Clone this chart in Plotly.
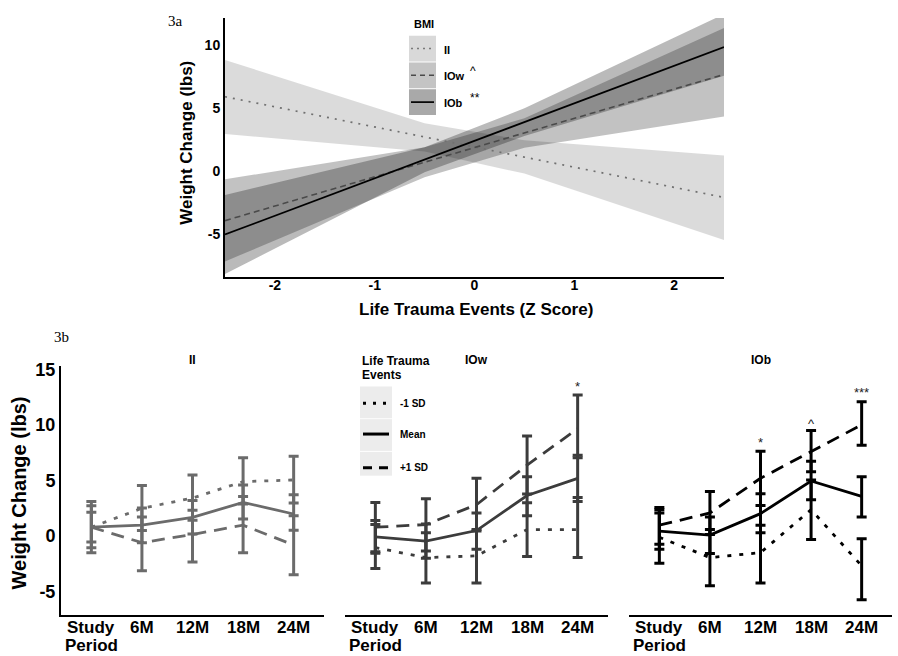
import plotly.graph_objects as go

W, H = 898, 656
def px(x): return x / W
def py(y): return 1 - y / H

FONT = "Arial, Liberation Sans, sans-serif"
SERIF = "Times New Roman, Liberation Serif, serif"

# ---------------- Figure 3a data ----------------
z_x = [-2.5, -0.5, 0.5, 2.5]
ii_fit = [5.92, 2.71, 1.11, -2.10]
ii_lo = [2.95, 1.55, -0.20, -5.50]
ii_hi = [8.85, 3.80, 2.45, 1.24]
ow_fit = [-3.95, 0.70, 3.03, 7.69]
ow_lo = [-7.20, -0.50, 1.85, 4.34]
ow_hi = [-0.66, 1.90, 4.20, 11.40]
ob_fit = [-5.05, 0.92, 3.90, 9.87]
ob_lo = [-8.20, -0.10, 2.80, 7.60]
ob_hi = [-1.90, 1.90, 5.00, 12.50]
z_ticks = [-2, -1, 0, 1, 2]
z_tick_text = ["-2", "-1", "0", "1", "2"]
wc_ticks_a = [-5, 0, 5, 10]
wc_tick_text_a = ["-5", "0", "5", "10"]

# ---------------- Figure 3b data ----------------
periods = ["Study", "6M", "12M", "18M", "24M"]
period_line2 = ["Period", "", "", "", ""]
wc_ticks_b = [-5, 0, 5, 10, 15]
wc_tick_text_b = ["-5", "0", "5", "10", "15"]

# II
ii_m1 = [0.80, 2.50, 3.42, 4.90, 5.05]
ii_m1_lo = [-1.49, 0.50, 1.43, 2.88, 2.97]
ii_m1_hi = [3.12, 4.55, 5.50, 7.04, 7.19]
ii_mean = [0.80, 0.98, 1.69, 3.03, 1.99]
ii_mean_lo = [-0.53, -0.59, 0.20, 1.54, 0.53]
ii_mean_hi = [2.14, 2.52, 3.21, 4.60, 3.71]
ii_p1 = [0.80, -0.59, 0.15, 0.98, -0.80]
ii_p1_lo = [-1.04, -3.12, -2.32, -1.49, -3.48]
ii_p1_hi = [2.73, 1.72, 2.32, 3.57, 1.84]
# IOw
ow_m1 = [-1.04, -1.93, -1.78, 0.59, 0.59]
ow_m1_lo = [-2.91, -4.22, -4.22, -1.84, -1.93]
ow_m1_hi = [1.04, 0.30, 0.59, 3.00, 3.48]
ow_mean = [-0.06, -0.45, 0.50, 3.65, 5.20]
ow_mean_lo = [-1.54, -1.99, -1.19, 1.84, 3.12]
ow_mean_hi = [1.40, 1.10, 2.08, 5.35, 7.28]
ow_p1 = [0.80, 1.04, 2.82, 6.39, 9.66]
ow_p1_lo = [-1.40, -1.34, 0.45, 3.78, 7.04]
ow_p1_hi = [3.03, 3.36, 5.20, 9.00, 12.69]
# IOb
ob_m1 = [-0.10, -1.93, -1.49, 2.38, -2.67]
ob_m1_lo = [-2.44, -4.46, -4.22, -0.30, -5.73]
ob_m1_hi = [2.38, 0.59, 0.98, 5.05, -0.24]
ob_mean = [0.45, 0.09, 2.02, 4.96, 3.57]
ob_mean_lo = [-1.19, -1.57, 0.30, 3.27, 1.72]
ob_mean_hi = [2.08, 1.72, 3.80, 6.74, 5.35]
ob_p1 = [0.98, 2.08, 5.20, 7.64, 10.01]
ob_p1_lo = [-0.74, 0.15, 2.76, 5.79, 8.17]
ob_p1_hi = [2.58, 4.01, 7.64, 9.50, 12.09]

# significance marks (axis number, period index, label, y)
sig_axis = [3, 4, 4, 4]
sig_idx = [4, 2, 3, 4]
sig_text = ["*", "*", "^", "***"]
sig_y = [13.5, 8.4, 10.1, 12.9]

fig = go.Figure()

# ---------- 3a bands ----------
def band(x, lo, hi, color):
    fig.add_trace(go.Scatter(x=list(x) + list(x)[::-1], y=list(hi) + list(lo)[::-1],
                             fill="toself", fillcolor=color, line=dict(width=0),
                             mode="lines", hoverinfo="skip", showlegend=False,
                             xaxis="x", yaxis="y"))

band(z_x, ii_lo, ii_hi, "rgba(0,0,0,0.14)")
band(z_x, ow_lo, ow_hi, "rgba(0,0,0,0.24)")
band(z_x, ob_lo, ob_hi, "rgba(0,0,0,0.27)")

fig.add_trace(go.Scatter(x=z_x, y=ii_fit, mode="lines", showlegend=False,
                         line=dict(color="#707070", width=1.7, dash="2px,6px"),
                         xaxis="x", yaxis="y"))
fig.add_trace(go.Scatter(x=z_x, y=ow_fit, mode="lines", showlegend=False,
                         line=dict(color="#4a4a4a", width=1.6, dash="6px,4px"),
                         xaxis="x", yaxis="y"))
fig.add_trace(go.Scatter(x=z_x, y=ob_fit, mode="lines", showlegend=False,
                         line=dict(color="#000000", width=1.7),
                         xaxis="x", yaxis="y"))

# ---------- 3b ----------
xi = list(range(len(periods)))
panels = [
    ("2", "#6b6b6b", [(ii_m1, ii_m1_lo, ii_m1_hi), (ii_mean, ii_mean_lo, ii_mean_hi), (ii_p1, ii_p1_lo, ii_p1_hi)]),
    ("3", "#3c3c3c", [(ow_m1, ow_m1_lo, ow_m1_hi), (ow_mean, ow_mean_lo, ow_mean_hi), (ow_p1, ow_p1_lo, ow_p1_hi)]),
    ("4", "#000000", [(ob_m1, ob_m1_lo, ob_m1_hi), (ob_mean, ob_mean_lo, ob_mean_hi), (ob_p1, ob_p1_lo, ob_p1_hi)]),
]
dashes = ["4px,8px", "solid", "13px,8px"]
for ax, col, series in panels:
    for (vals, lo, hi), d in zip(series, dashes):
        fig.add_trace(go.Scatter(
            x=xi, y=vals, mode="lines", showlegend=False,
            line=dict(color=col, width=2.8, dash=d),
            error_y=dict(type="data", symmetric=False,
                         array=[h - v for h, v in zip(hi, vals)],
                         arrayminus=[v - l for v, l in zip(vals, lo)],
                         color=col, thickness=3, width=5),
            xaxis="x" + ax, yaxis="y" + ax))

annotations = []
for a, i, t, yv in zip(sig_axis, sig_idx, sig_text, sig_y):
    annotations.append(dict(x=xi[i], y=yv, xref="x%d" % a, yref="y%d" % a,
                            text=t, showarrow=False,
                            font=dict(family=FONT, size=13, color="#222")))

# category tick labels of the bottom panels
for a in (2, 3, 4):
    for i, (l1, l2) in enumerate(zip(periods, period_line2)):
        annotations.append(dict(x=xi[i], y=py(627), xref="x%d" % a, yref="paper", text=l1,
                                showarrow=False, yanchor="middle",
                                font=dict(family=FONT, size=17, color="black", weight="bold")))
        if l2:
            annotations.append(dict(x=xi[i], y=py(645), xref="x%d" % a, yref="paper", text=l2,
                                    showarrow=False, yanchor="middle",
                                    font=dict(family=FONT, size=17, color="black", weight="bold")))

axis_common = dict(showgrid=False, zeroline=False, showline=True, linecolor="black",
                   linewidth=2, ticks="")

top_dom_x = [px(225), px(724)]
top_dom_y = [py(273), py(12)]
bot_dom_y = [py(615), py(363)]
bx = [(61, 324), (345, 608), (629, 892)]

layout = dict(
    width=W, height=H, margin=dict(l=0, r=0, t=0, b=0),
    paper_bgcolor="white", plot_bgcolor="white", showlegend=False,
    xaxis=dict(domain=top_dom_x, range=[-2.5, 2.5], tickvals=z_ticks, ticktext=z_tick_text,
               anchor="y", ticklabelstandoff=-5,
               tickfont=dict(family=FONT, size=14, color="black", weight="bold"), **axis_common),
    yaxis=dict(domain=top_dom_y, range=[-8.4, 12.2], tickvals=wc_ticks_a, ticktext=wc_tick_text_a,
               anchor="x", tickfont=dict(family=FONT, size=14, color="black", weight="bold"),
               **axis_common),
)
for k, (a, b) in enumerate(bx):
    n = str(k + 2)
    layout["xaxis" + n] = dict(domain=[px(a), px(b)], range=[-0.6, 4.6], tickvals=xi,
                               showticklabels=False, anchor="y" + n, **axis_common)
    layout["yaxis" + n] = dict(domain=bot_dom_y, range=[-7.13, 15.33], tickvals=wc_ticks_b,
                               ticktext=wc_tick_text_b, anchor="x" + n, visible=(k == 0),
                               tickfont=dict(family=FONT, size=18, color="black", weight="bold"),
                               **axis_common)

fig.update_layout(**layout)

# ---------- text annotations ----------
def txt(x, y, text, size, bold=True, family=FONT, xanchor="center", angle=0, color="black"):
    annotations.append(dict(x=px(x), y=py(y), xref="paper", yref="paper", text=text,
                            showarrow=False, xanchor=xanchor, yanchor="middle", textangle=angle,
                            font=dict(family=family, size=size, color=color,
                                      weight="bold" if bold else "normal")))

txt(175, 15, "3a", 15, bold=False, family=SERIF)
txt(62, 334, "3b", 15, bold=False, family=SERIF)
txt(187, 138, "Weight Change (lbs)", 17, angle=-90)
txt(476, 306, "Life Trauma Events (Z Score)", 17)
txt(18, 492, "Weight Change (lbs)", 20, angle=-90)
txt(192, 357, "II", 12)
txt(476, 357, "IOw", 12)
txt(761, 357, "IOb", 12)

# top legend
shapes = []
txt(424, 18, "BMI", 11)
leg_fill = ["#d9d9d9", "#c4c4c4", "#a9a9a9"]
leg_rows = [(30, 56), (57, 83), (84, 110)]
leg_lab = ["II", "IOw", "IOb"]
leg_mark = ["", "^", "**"]
leg_line = [("#7a7a7a", "2px,4px", 1.5), ("#4a4a4a", "5px,4px", 1.5), ("black", "solid", 1.7)]
for (y0, y1), f, lab, mk, (c, d, w) in zip(leg_rows, leg_fill, leg_lab, leg_mark, leg_line):
    shapes.append(dict(type="rect", xref="paper", yref="paper", x0=px(409), x1=px(436),
                       y0=py(y1), y1=py(y0), fillcolor=f, line=dict(width=0), layer="above"))
    ym = (y0 + y1) / 2
    shapes.append(dict(type="line", xref="paper", yref="paper", x0=px(411), x1=px(434),
                       y0=py(ym), y1=py(ym), line=dict(color=c, dash=d, width=w), layer="above"))
    txt(442, ym + 1, lab, 11, xanchor="left")
    if mk:
    	txt(468, ym - 4, mk, 12, bold=False, xanchor="left")

# bottom legend
txt(360, 358, "Life Trauma", 12, xanchor="left")
txt(360, 372, "Events", 12, xanchor="left")
rows2 = [(384, 416), (417, 449), (450, 474)]
lab2 = ["-1 SD", "Mean", "+1 SD"]
ys2 = [401, 432, 466]
d2 = ["3px,7px", "solid", "9px,7px"]
for (y0, y1), lab, ym, d in zip(rows2, lab2, ys2, d2):
    shapes.append(dict(type="rect", xref="paper", yref="paper", x0=px(360), x1=px(392),
                       y0=py(y1), y1=py(y0), fillcolor="#ececec", line=dict(width=0), layer="above"))
    shapes.append(dict(type="line", xref="paper", yref="paper", x0=px(363), x1=px(389),
                       y0=py(ym), y1=py(ym), line=dict(color="black", dash=d, width=3), layer="above"))
    txt(398, ym, lab, 10, xanchor="left")

fig.update_layout(annotations=annotations, shapes=shapes)
fig.write_html("out.html", config={"displayModeBar": False},
               post_script="document.body.style.margin='0';document.body.style.overflow='hidden';")
